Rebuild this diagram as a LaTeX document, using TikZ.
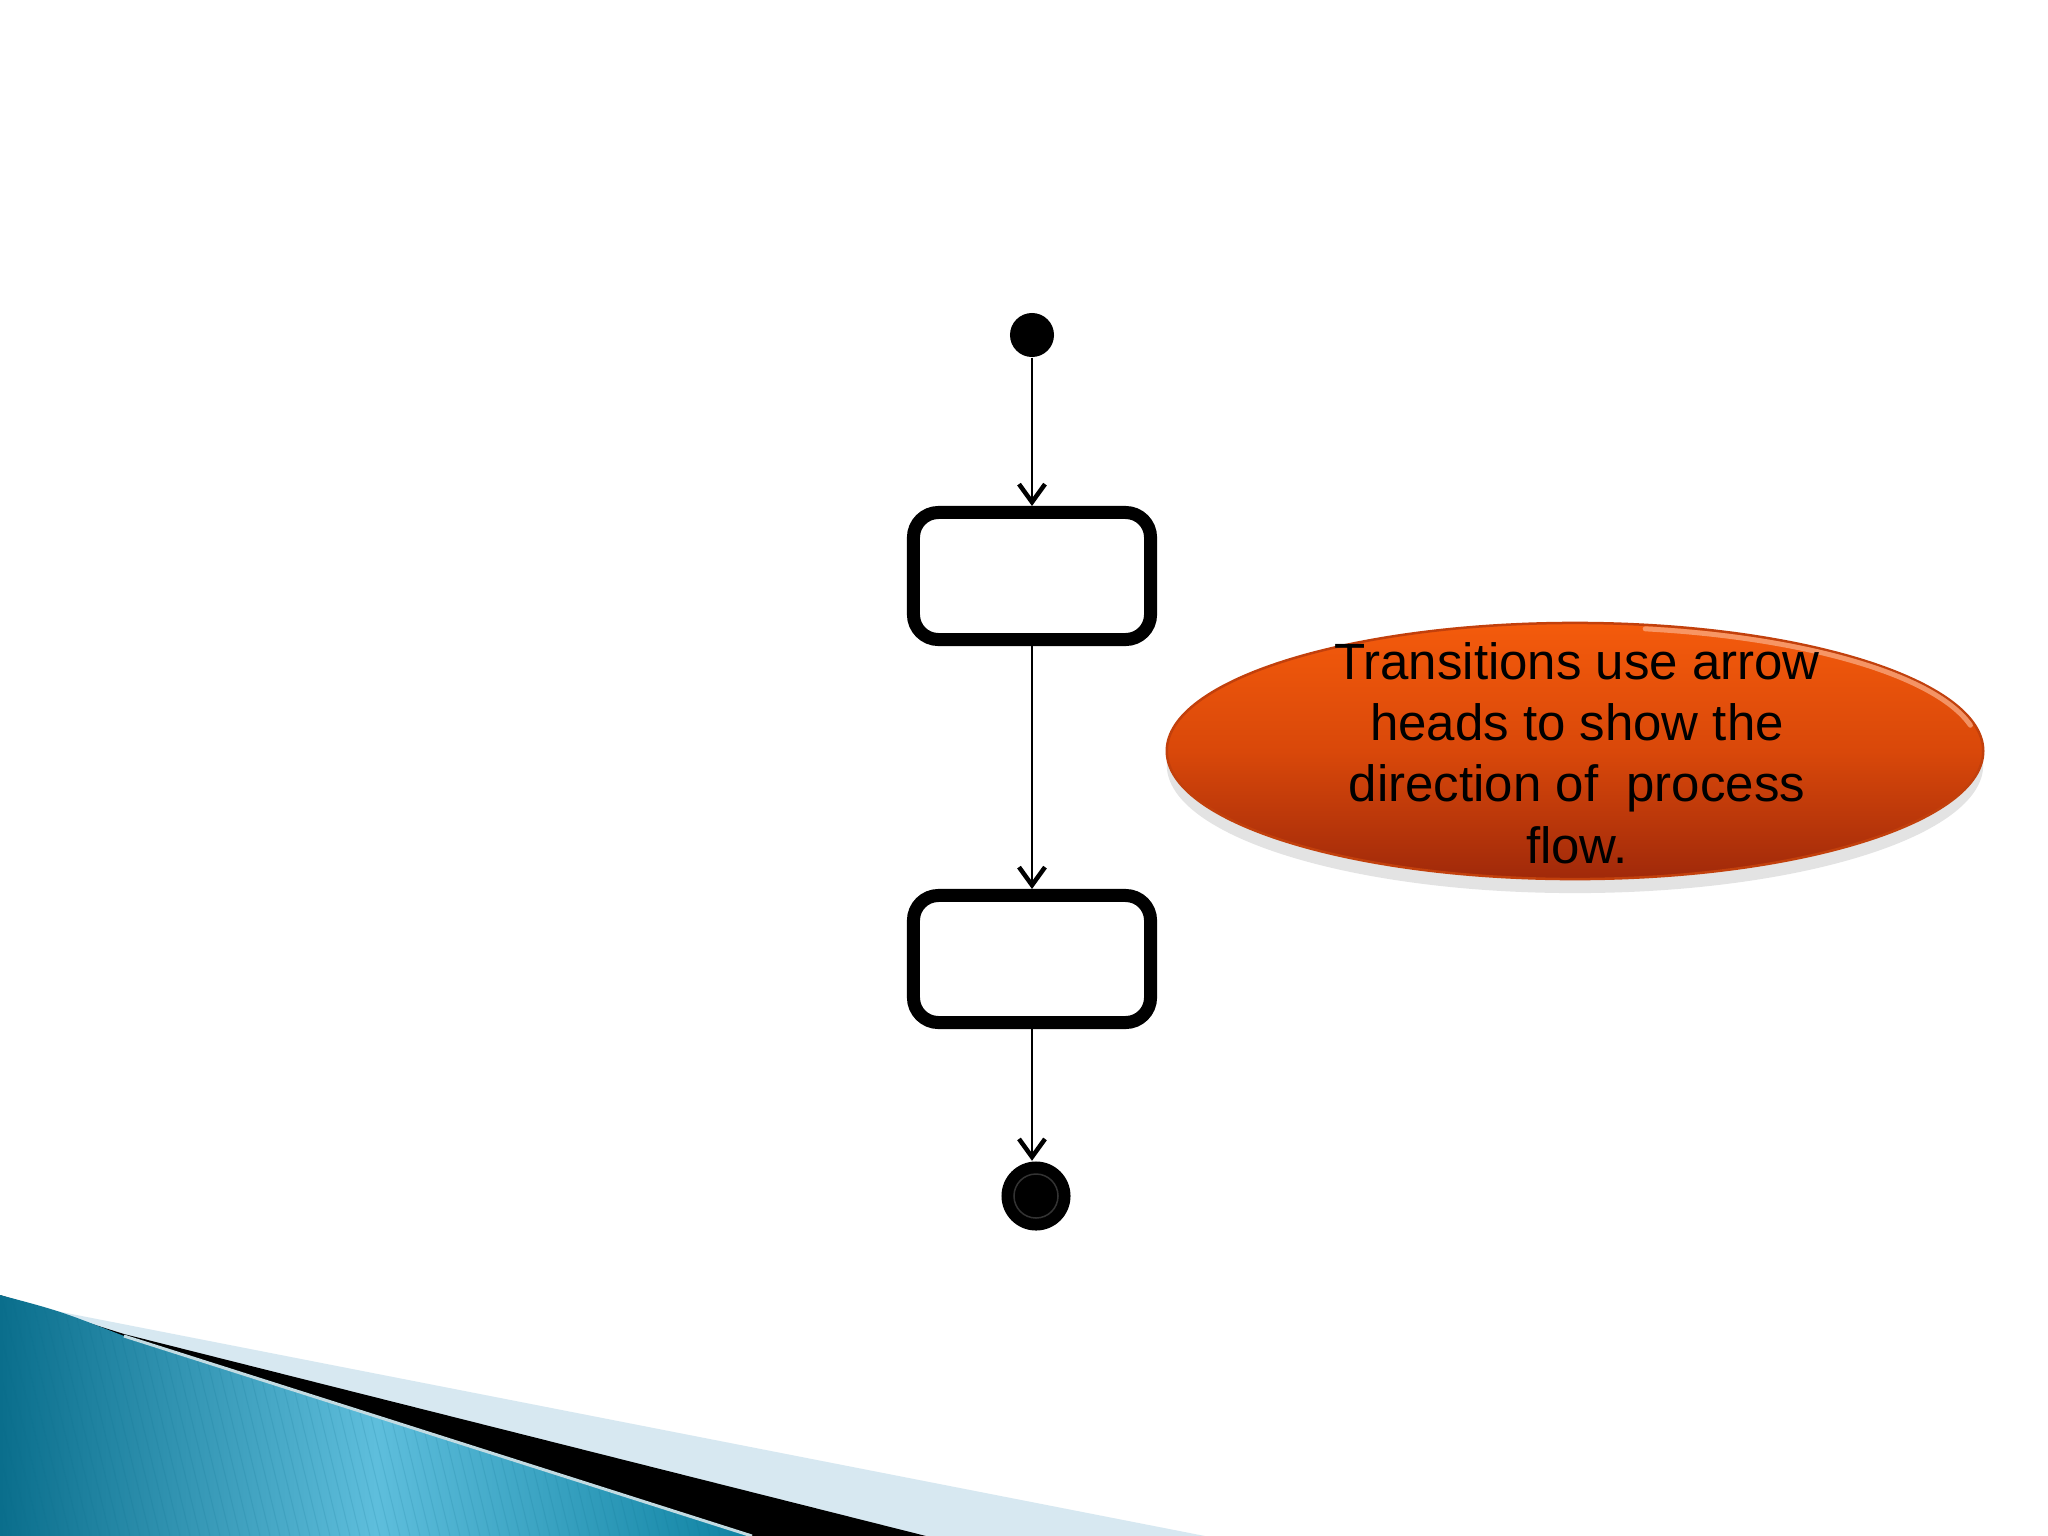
\documentclass[tikz,border=0pt]{standalone}
\usepackage{fontspec}
\setmainfont{Liberation Sans}
\usetikzlibrary{arrows.meta}
\usetikzlibrary{shapes.geometric}
\usetikzlibrary{shadows}

\definecolor{teallight}{HTML}{5EBEDC}
\definecolor{tealdark}{HTML}{0A6E8C}
\definecolor{tealmid}{HTML}{0E82A2}
\definecolor{paleblue}{HTML}{D7E8F1}
\definecolor{flametop}{HTML}{F45B0C}
\definecolor{flamemid}{HTML}{D9480A}
\definecolor{flamebot}{HTML}{A0290A}
\definecolor{flamerim}{HTML}{C2400C}
\definecolor{flameglow}{HTML}{FBB08A}

\begin{document}
\begin{tikzpicture}[x=0.01cm,y=-0.01cm, font=\fontsize{14.5pt}{17.4pt}\selectfont,
    startdot/.style={circle,fill=black,inner sep=0pt,minimum size=4.4mm},
    enddot/.style={circle,fill=black,inner sep=0pt,minimum size=6.9mm},
    actbox/.style={draw,rounded corners=2.5mm,line width=1.3mm,minimum width=23.7mm,minimum height=12.7mm},
    flowarrow/.style={line width=0.2mm,-{Straight Barb[length=1.8mm,width=2.6mm,line width=0.45mm]}},
    notecloud/.style={ellipse,inner sep=0pt,minimum width=81.6mm,minimum height=25.6mm,
      top color=flametop,bottom color=flamebot,middle color=flamemid,
      draw=flamerim,line width=0.25mm,
      drop shadow={opacity=0.22,shadow xshift=0mm,shadow yshift=-1.4mm}},
    notetext/.style={align=center,inner sep=0pt}]
      \fill[white] (0,0) rectangle (2048,1536);
      \useasboundingbox (0,0) rectangle (2048,1536);

      \fill[paleblue] (0,1300) -- (1205,1536) -- (0,1536) -- cycle;
      \fill[black] (0,1295) -- (124,1334) -- (926,1536) -- (0,1536) -- cycle;
      \shade[left color=tealdark,right color=tealmid,middle color=teallight]
        (0,1295) .. controls (60,1311) .. (124,1336) -- (752,1536) -- (0,1536) -- cycle;
      \begin{scope}
        \clip (0,1295) .. controls (60,1311) .. (124,1336) -- (752,1536) -- (0,1536) -- cycle;
        \foreach \i in {0,10,...,820} \draw[tealdark,opacity=0.15,line width=0.1mm] (\i,1536) -- (\i-60,1290);
      \end{scope}
      \draw[white!75!tealdark,line width=0.3mm] (124,1336) -- (752,1536);

      \node[startdot] (start) at (1032,335) {};
      \node[actbox] (act1) at (1032,576) {};
      \node[actbox] (act2) at (1032,959) {};
      \node[enddot] (stop) at (1036,1196) {};
      \draw[black!80,line width=0.15mm] (stop) circle (2.2mm);

      \draw[flowarrow] (start) -- (act1);
      \draw[flowarrow] (act1) -- (act2);
      \draw[flowarrow] (act2) -- (act2 |- stop.north);

      \node[notecloud] (note) at (1575,751) {};
      \draw[flameglow,opacity=0.7,line width=0.5mm,line cap=round] (note.center) ++(80:40.4mm and 12.4mm)
        arc[start angle=80,end angle=12,x radius=40.4mm,y radius=12.4mm];
      \node[notetext] (notelabel) at (1577,753) {Transitions use arrow\\heads to show the\\direction of~ process\\flow.};
    \end{tikzpicture}
\end{document}
